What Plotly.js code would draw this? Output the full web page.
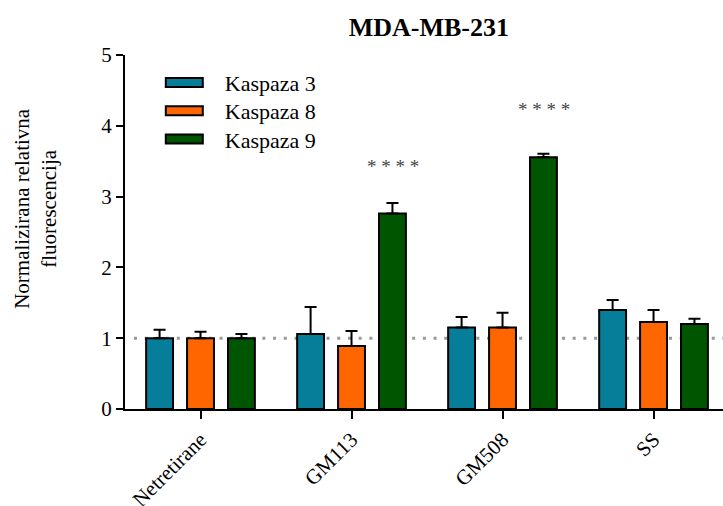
<!DOCTYPE html>
<html>
<head>
<meta charset="utf-8">
<script src="https://cdn.plot.ly/plotly-3.0.1.min.js"></script>
<style>
html,body{margin:0;padding:0;background:#fff;}
#chart{width:723px;height:506px;}
#chart text{font-family:"Liberation Serif","Times New Roman",serif !important;}
</style>
</head>
<body>
<div id="chart"></div>
<script>
const categories = ["Netretirane", "GM113", "GM508", "SS"];
const seriesNames = ["Kaspaza 3", "Kaspaza 8", "Kaspaza 9"];
const kaspaza3 = [1.00, 1.06, 1.15, 1.40];
const kaspaza3Err = [0.12, 0.38, 0.15, 0.14];
const kaspaza8 = [1.00, 0.89, 1.15, 1.23];
const kaspaza8Err = [0.09, 0.21, 0.21, 0.17];
const kaspaza9 = [1.00, 2.76, 3.555, 1.20];
const kaspaza9Err = [0.06, 0.15, 0.05, 0.075];
const significance = ["", "* * * *", "* * * *", ""];
const significanceLevel = [null, 3.43, 4.23, null];
const colors = ["#067E99", "#FF6600", "#005500"];
const yTitle = "Normalizirana relativna<br>fluorescencija";

const values = [kaspaza3, kaspaza8, kaspaza9];
const errs = [kaspaza3Err, kaspaza8Err, kaspaza9Err];

const traces = values.map((v, i) => ({
  type: "bar",
  name: seriesNames[i],
  x: categories,
  y: v,
  marker: {color: colors[i], line: {color: "#000", width: 2}},
  error_y: {type: "data", array: errs[i], arrayminus: v.map(() => 0), symmetric: false,
            color: "#000", thickness: 2, width: 6},
  hoverinfo: "none"
}));

const SERIF = "Liberation Serif";
const annotations = [];
categories.forEach((c, j) => {
  if (significance[j]) {
    annotations.push({
      x: j, xref: "x", xshift: 41, y: significanceLevel[j], yref: "y",
      text: significance[j], showarrow: false,
      font: {family: SERIF, size: 19, color: "#444"}
    });
  }
});
annotations.push({
  text: yTitle, textangle: -90, showarrow: false,
  xref: "paper", x: -0.149, xanchor: "center",
  yref: "paper", y: 0.568, yanchor: "middle",
  font: {family: SERIF, size: 21, color: "#000"}
});

const layout = {
  width: 723, height: 506,
  font: {family: SERIF, color: "#000"},
  margin: {l: 125, r: 0, t: 55, b: 97},
  paper_bgcolor: "#fff", plot_bgcolor: "#fff",
  barmode: "group", bargap: 0.187, bargroupgap: 0.343,
  title: {text: "<b>MDA-MB-231</b>", font: {family: SERIF, size: 26, color: "#000"},
          x: 0.508, xanchor: "center", y: 0.947, yanchor: "middle", xref: "paper"},
  xaxis: {
    range: [-0.5, 3.46], showgrid: false, zeroline: false,
    showline: true, linecolor: "#000", linewidth: 2,
    ticks: "outside", ticklen: 8, tickwidth: 2, tickcolor: "#000",
    tickangle: -45, tickfont: {family: SERIF, size: 21, color: "#000"},
    fixedrange: true
  },
  yaxis: {
    range: [0, 5], tickvals: [0, 1, 2, 3, 4, 5], showgrid: false, zeroline: false,
    showline: true, linecolor: "#000", linewidth: 2,
    ticks: "outside", ticklen: 7, tickwidth: 2, tickcolor: "#000",
    tickfont: {family: SERIF, size: 21, color: "#000"},
    fixedrange: true
  },
  legend: {x: 0.1, y: 0.985, xanchor: "left", yanchor: "top", bgcolor: "rgba(0,0,0,0)",
           font: {family: SERIF, size: 22, color: "#000"}, tracegroupgap: 0, itemwidth: 30},
  shapes: [{type: "line", xref: "paper", x0: 0.015, x1: 1, yref: "y", y0: 1, y1: 1,
            line: {color: "#999", width: 3, dash: "3px,7.7px"}, layer: "below"}],
  annotations: annotations,
  showlegend: true
};

const legendCenters = [82.5, 110.8, 139.1];

function tweak() {
  const sb = document.querySelector("#chart .legend .scrollbox");
  if (sb) sb.removeAttribute("clip-path");
  const lg = document.querySelector("#chart .legend");
  if (lg) lg.removeAttribute("clip-path");
  const root = document.getElementById("chart").getBoundingClientRect();
  document.querySelectorAll("#chart .legend .traces").forEach((t, i) => {
    let ref = null;
    t.querySelectorAll(".legendpoints path").forEach(p => {
      const d = p.getAttribute("d");
      if (d && d.length > 0) { p.setAttribute("d", "M-39,4.5H-2V-4.5H-39Z"); ref = p; }
    });
    if (ref && legendCenters[i] !== undefined) {
      const r = ref.getBoundingClientRect();
      const cur = r.top + r.height / 2 - root.top;
      const m = /translate\(\s*([-\d.]+)[ ,]+([-\d.]+)\s*\)/.exec(t.getAttribute("transform") || "");
      if (m) {
        const nx = parseFloat(m[1]);
        const ny = parseFloat(m[2]) + (legendCenters[i] - cur);
        t.setAttribute("transform", "translate(" + nx + "," + ny + ")");
      }
    }
  });
  // write the font family without quotes so any SVG consumer reads it
  document.querySelectorAll("#chart svg text").forEach(t => {
    t.setAttribute("font-family", "Liberation Serif, serif");
    const s = t.getAttribute("style") || "";
    t.setAttribute("style", s.replace(/font-family:[^;]*;?/, "font-family: Liberation Serif, serif;"));
  });
}

Plotly.newPlot("chart", traces, layout, {displayModeBar: false, staticPlot: true}).then(tweak);
</script>
</body>
</html>
